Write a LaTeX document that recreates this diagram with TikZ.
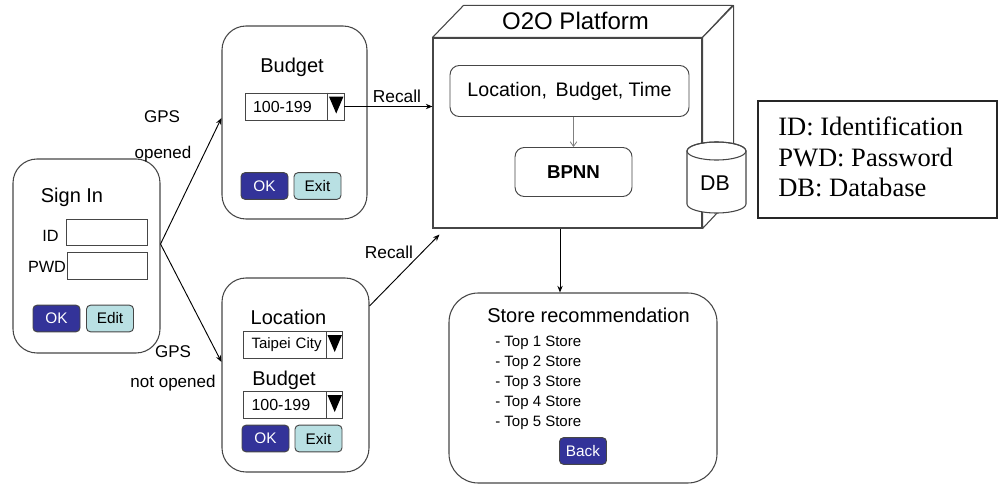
\documentclass[tikz,border=0pt]{standalone}
\usepackage{fontspec}
\setmainfont{Liberation Sans}
\newfontfamily\legendfont{Liberation Serif}
\usetikzlibrary{arrows.meta}
\definecolor{okblue}{RGB}{51,51,153}
\definecolor{btncyan}{RGB}{185,224,227}
\definecolor{edgegray}{RGB}{70,70,70}
\newcommand\fsz[1]{\fontsize{#1}{#1}\selectfont}
\newcommand\dropmark[1]{%
  \draw[edgegray,line width=0.7pt] ([xshift=-12.75pt]#1.north east) -- ([xshift=-12.75pt]#1.south east);
  \fill ([shift={(-15.5,4)}]#1.north east) -- ([shift={(-1,4)}]#1.north east) -- ([shift={(-8.25,21)}]#1.north east) -- cycle;}
\begin{document}
\begin{tikzpicture}[x=0.75pt,y=-0.75pt,
  panel/.style={draw=edgegray,line width=0.8pt,rounded corners=18pt,inner sep=0pt},
  field/.style={draw=edgegray,line width=0.7pt,fill=white,inner sep=0pt},
  dropbox/.style={field,minimum width=74.25pt,minimum height=20.25pt,text width=62.25pt,inner xsep=6pt,align=left},
  btn/.style={draw=edgegray,line width=0.7pt,rounded corners=3pt,minimum width=35.25pt,minimum height=20pt,inner sep=0pt,font=\fsz{11.5}},
  okbtn/.style={btn,fill=okblue,text=white},
  cybtn/.style={btn,fill=btncyan,text=black},
  txt/.style={inner sep=0pt,anchor=base},
  inbox/.style={draw=edgegray,line width=0.7pt,rounded corners=7pt,inner sep=0pt},
  arr/.style={-{Stealth[length=5pt,width=4pt]},line width=0.7pt,black},
  garr/.style={-{Straight Barb[length=3.5pt,width=5pt]},line width=0.6pt,gray},
]
\useasboundingbox (0,0) rectangle (998,485);

% ---------- Sign in panel
\node[panel,minimum width=110.25pt,minimum height=145.5pt] (signin) at (86.5,256) {};
\node[txt,font=\fsz{15}] (signtitle) at (72,202) {Sign In};
\node[txt,font=\fsz{12.2}] (idlbl) at (50.5,241) {ID};
\node[field,minimum width=60.75pt,minimum height=19.5pt] (idfield) at (106.5,232) {};
\node[txt,font=\fsz{12.2}] (pwdlbl) at (47,272) {PWD};
\node[field,minimum width=60pt,minimum height=20.25pt] (pwdfield) at (107,265.5) {};
\node[okbtn] (signok) at (56.5,318.5) {OK};
\node[cybtn] (signedit) at (110,318.5) {Edit};

% ---------- GPS opened panel
\node[panel,minimum width=108.75pt,minimum height=144.75pt] (gpsyes) at (294.5,122.5) {};
\node[txt,font=\fsz{15}] (b1title) at (292,72) {Budget};
\node[dropbox,font=\fsz{12}] (dd1) at (294.5,106.5) {100-199};
\dropmark{dd1}
\node[okbtn] (b1ok) at (264.5,186) {OK};
\node[cybtn] (b1exit) at (317.5,186) {Exit};

% ---------- GPS not opened panel
\node[panel,minimum width=110.25pt,minimum height=145.5pt] (gpsno) at (295.5,375) {};
\node[txt,font=\fsz{15}] (loctitle) at (288.5,324) {Location};
\node[dropbox,font=\fsz{11.25}] (dd2) at (293,345) {Taipei City};
\dropmark{dd2}
\node[txt,font=\fsz{15}] (b2title) at (284,385) {Budget};
\node[dropbox,font=\fsz{12}] (dd3) at (293,405) {100-199};
\dropmark{dd3}
\node[okbtn] (b2ok) at (265.5,438.5) {OK};
\node[cybtn] (b2exit) at (318.5,438.5) {Exit};

% ---------- O2O platform (3D box)
\node[draw=edgegray,line width=0.8pt,fill=white,minimum width=201.75pt,minimum height=142.5pt,inner sep=0pt] (plat) at (567.5,133) {};
\draw[edgegray,line width=0.8pt,fill=white,line join=round] (plat.north west) -- ++(31,-32) -- ++(269,0) -- (plat.north east) -- cycle;
\draw[edgegray,line width=0.8pt,fill=white,line join=round] (plat.north east) -- ++(31,-32) -- ++(0,190) -- (plat.south east) -- cycle;
\node[txt,font=\fsz{18}] (plattitle) at (575.5,30) {O2O Platform};
\node[inbox,minimum width=179.25pt,minimum height=38.25pt,font=\fsz{14.7}] (lbt) at (569.5,91) {Location, \,Budget, Time};
\node[inbox,minimum width=87.75pt,minimum height=36.75pt,font=\fsz{14}\bfseries] (bpnn) at (573.5,172) {BPNN};
\draw[garr] (bpnn.north |- lbt.south) -- (bpnn.north);

% database cylinder
\draw[edgegray,line width=0.8pt,fill=white] (687,151) -- (687,204)
   arc[start angle=180,end angle=360,x radius=22.125pt,y radius=6.75pt] -- (746,151)
   arc[start angle=0,end angle=180,x radius=22.125pt,y radius=6.75pt] -- cycle;
\draw[edgegray,line width=0.8pt] (716.5,151) ellipse[x radius=22.125pt,y radius=6.75pt];
\node[txt,font=\fsz{16}] (db) at (715,190) {DB};

% ---------- Store recommendation
\node[panel,rounded corners=22pt,minimum width=201pt,minimum height=142.5pt] (store) at (583,388) {};
\node[txt,font=\fsz{15}] (storetitle) at (588.5,322) {Store recommendation};
\foreach \i in {1,...,5}
  \node[txt,anchor=base west,font=\fsz{11.25}] (item\i) at (495,{346.7+20*(\i-1)}) {- Top \i\ Store};
\node[okbtn] (back) at (583,451) {Back};

% ---------- Legend
\node[draw=black!85,line width=0.8pt,minimum width=179.25pt,minimum height=87.75pt,inner sep=0pt] (legend) at (877.5,159.5) {};
\node[txt,anchor=base west,font=\legendfont\fsz{19.9}] (lg1) at (778,135) {ID: Identification};
\node[txt,anchor=base west,font=\legendfont\fsz{19.9}] (lg2) at (778,166) {PWD: Password};
\node[txt,anchor=base west,font=\legendfont\fsz{19.9}] (lg3) at (778,196.5) {DB: Database};

% ---------- Connectors and labels
\draw[arr] ([yshift=9pt]signin.east) -- ([yshift=3.4pt]gpsyes.west);
\draw[arr] ([yshift=9pt]signin.east) -- ([yshift=9.75pt]gpsno.west);
\node[txt,font=\fsz{12.75}] (gps1) at (162,122) {GPS};
\node[txt,font=\fsz{12.75}] (open1) at (163,158) {opened};
\node[txt,font=\fsz{12.75}] (gps2) at (173,357) {GPS};
\node[txt,font=\fsz{12.75}] (open2) at (173,387) {not opened};

\draw[arr] (dd1.east) -- (dd1.east -| plat.west);
\node[txt,font=\fsz{13}] (recall1) at (397,102) {Recall};
\draw[arr] (gpsno.43) -- ([shift={(7,6)}]plat.south west);
\node[txt,font=\fsz{13}] (recall2) at (389,258) {Recall};

\draw[arr] ([xshift=-5.625pt]plat.south) -- ([xshift=-5.625pt]plat.south |- store.north);
\end{tikzpicture}
\end{document}
